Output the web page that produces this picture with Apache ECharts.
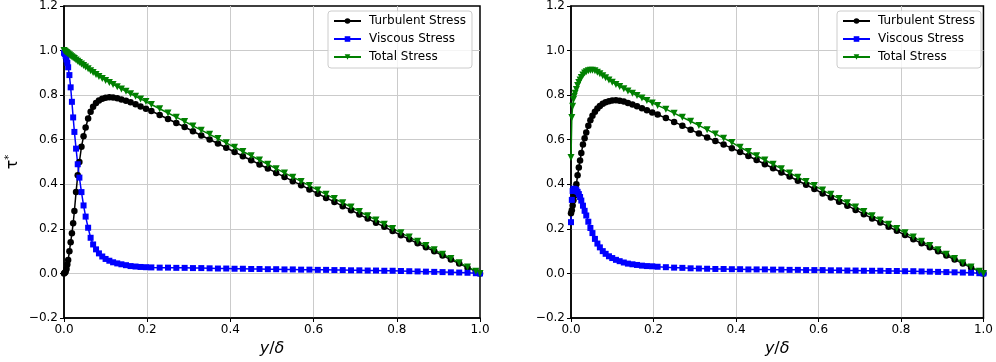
<!DOCTYPE html>
<html><head><meta charset="utf-8">
<script src="https://cdn.jsdelivr.net/npm/echarts@6/dist/echarts.min.js"></script>
<style>html,body{margin:0;padding:0;background:#fff}#c{width:996px;height:362px}</style>
</head><body><div id="c"></div>
<script>
// wall-normal grid positions y/delta
const Y_DELTA = [0, 0.002, 0.004, 0.006, 0.008, 0.010, 0.013, 0.016, 0.019, 0.022, 0.025, 0.029, 0.033, 0.037, 0.042, 0.047, 0.052, 0.058, 0.064, 0.070, 0.077, 0.084, 0.092, 0.100, 0.109, 0.118, 0.128, 0.138, 0.149, 0.160, 0.172, 0.184, 0.197,
  0.21, 0.23, 0.25, 0.27, 0.29, 0.31, 0.33, 0.35, 0.37, 0.39, 0.41, 0.43, 0.45, 0.47, 0.49, 0.51, 0.53, 0.55, 0.57, 0.59, 0.61, 0.63, 0.65, 0.67, 0.69, 0.71, 0.73, 0.75, 0.77, 0.79, 0.81, 0.83, 0.85, 0.87, 0.89, 0.91, 0.93, 0.95, 0.97, 0.99, 1.0];

// left panel
const LEFT_TURBULENT = [0, 0.003, 0.008, 0.02, 0.04, 0.06, 0.1, 0.14, 0.18, 0.225, 0.28, 0.365, 0.44, 0.50, 0.568, 0.615, 0.655, 0.695, 0.725, 0.748, 0.765, 0.776, 0.784, 0.788, 0.79, 0.789, 0.786, 0.781, 0.775, 0.768, 0.759, 0.749, 0.739,
  0.729, 0.711, 0.693, 0.675, 0.657, 0.638, 0.619, 0.601, 0.583, 0.564, 0.545, 0.526, 0.508, 0.489, 0.471, 0.451, 0.433, 0.414, 0.396, 0.377, 0.358, 0.339, 0.321, 0.302, 0.284, 0.264, 0.246, 0.227, 0.209, 0.19, 0.171, 0.153, 0.135, 0.117, 0.099, 0.08, 0.062, 0.044, 0.026, 0.009, 0];
const LEFT_VISCOUS = [0.99, 0.985, 0.975, 0.96, 0.945, 0.925, 0.89, 0.835, 0.77, 0.70, 0.635, 0.56, 0.49, 0.43, 0.365, 0.305, 0.255, 0.205, 0.16, 0.13, 0.108, 0.09, 0.076, 0.065, 0.057, 0.05, 0.045, 0.041, 0.037, 0.033, 0.031, 0.029, 0.028,
  0.027, 0.026, 0.026, 0.025, 0.025, 0.024, 0.024, 0.023, 0.022, 0.022, 0.021, 0.021, 0.02, 0.02, 0.019, 0.019, 0.018, 0.018, 0.017, 0.017, 0.016, 0.016, 0.015, 0.015, 0.014, 0.014, 0.013, 0.013, 0.012, 0.012, 0.011, 0.01, 0.009, 0.008, 0.007, 0.006, 0.005, 0.004, 0.003, 0.001, 0];
const LEFT_TOTAL = [1.0, 0.997, 0.994, 0.991, 0.988, 0.985, 0.981, 0.977, 0.972, 0.968, 0.964, 0.958, 0.952, 0.947, 0.94, 0.933, 0.926, 0.918, 0.91, 0.902, 0.893, 0.884, 0.875, 0.866, 0.857, 0.848, 0.838, 0.828, 0.817, 0.806, 0.795, 0.783, 0.771,
  0.758, 0.739, 0.72, 0.701, 0.682, 0.662, 0.643, 0.624, 0.605, 0.586, 0.566, 0.547, 0.528, 0.509, 0.49, 0.47, 0.451, 0.432, 0.413, 0.394, 0.374, 0.355, 0.336, 0.317, 0.298, 0.278, 0.259, 0.24, 0.221, 0.202, 0.182, 0.163, 0.144, 0.125, 0.106, 0.086, 0.067, 0.048, 0.029, 0.01, 0];

// right panel
const RIGHT_TURBULENT = [0.27, 0.283, 0.305, 0.328, 0.35, 0.373, 0.40, 0.44, 0.475, 0.507, 0.54, 0.578, 0.607, 0.632, 0.663, 0.687, 0.707, 0.726, 0.74, 0.751, 0.761, 0.768, 0.773, 0.776, 0.777, 0.775, 0.771, 0.765, 0.758, 0.75, 0.741, 0.732, 0.722,
  0.713, 0.697, 0.68, 0.663, 0.645, 0.628, 0.61, 0.594, 0.578, 0.562, 0.545, 0.527, 0.509, 0.49, 0.472, 0.453, 0.435, 0.416, 0.398, 0.379, 0.359, 0.341, 0.322, 0.304, 0.285, 0.266, 0.247, 0.228, 0.21, 0.191, 0.172, 0.153, 0.135, 0.117, 0.099, 0.08, 0.062, 0.044, 0.026, 0.009, 0];
const RIGHT_VISCOUS = [0.23, 0.33, 0.37, 0.38, 0.379, 0.377, 0.374, 0.366, 0.356, 0.343, 0.327, 0.304, 0.281, 0.26, 0.232, 0.204, 0.181, 0.155, 0.134, 0.117, 0.1, 0.088, 0.077, 0.069, 0.061, 0.055, 0.049, 0.044, 0.041, 0.038, 0.035, 0.033, 0.032,
  0.03, 0.028, 0.026, 0.025, 0.023, 0.022, 0.021, 0.02, 0.02, 0.019, 0.019, 0.018, 0.018, 0.018, 0.017, 0.017, 0.016, 0.016, 0.015, 0.015, 0.015, 0.014, 0.014, 0.013, 0.013, 0.012, 0.012, 0.012, 0.011, 0.011, 0.01, 0.01, 0.009, 0.008, 0.007, 0.006, 0.005, 0.004, 0.003, 0.001, 0];
const RIGHT_TOTAL = [0.52, 0.70, 0.75, 0.78, 0.795, 0.808, 0.825, 0.843, 0.857, 0.868, 0.879, 0.89, 0.899, 0.905, 0.91, 0.912, 0.912, 0.909, 0.903, 0.896, 0.887, 0.878, 0.868, 0.858, 0.848, 0.839, 0.829, 0.819, 0.809, 0.798, 0.787, 0.776, 0.765,
  0.754, 0.737, 0.719, 0.701, 0.683, 0.664, 0.645, 0.626, 0.607, 0.588, 0.566, 0.547, 0.528, 0.509, 0.49, 0.47, 0.451, 0.432, 0.413, 0.394, 0.374, 0.355, 0.336, 0.317, 0.298, 0.278, 0.259, 0.24, 0.221, 0.202, 0.182, 0.163, 0.144, 0.125, 0.106, 0.086, 0.067, 0.048, 0.029, 0.01, 0];

const SERIES_NAMES = ['Turbulent Stress', 'Viscous Stress', 'Total Stress'];
const X_TICK_LABELS = ['0.0', '0.2', '0.4', '0.6', '0.8', '1.0'];
const Y_TICK_LABELS = ['\u22120.2', '0.0', '0.2', '0.4', '0.6', '0.8', '1.0', '1.2'];

const FONT = 'DejaVu Sans';
const COLORS = ['#000000', '#0000ff', '#008000'];
const SYMBOLS = ['circle', 'rect', 'path://M0,0 L10,0 L5,9 Z'];
const SYMBOL_SIZES = [6.5, 6, 7];

function pairs(xs, ys) { return xs.map((x, i) => [x, ys[i]]); }
function xLabel(v) { return X_TICK_LABELS[Math.round(v / 0.2)] || ''; }
function yLabel(v) { return Y_TICK_LABELS[Math.round((v + 0.2) / 0.2)] || ''; }

const grids = [
  { left: 64, top: 5, width: 416, height: 313 },
  { left: 571, top: 5, width: 416, height: 313 }
].map(g => Object.assign(g, { show: true, borderColor: '#000', borderWidth: 1.5, backgroundColor: 'transparent' }));

const SPLIT = { show: true, showMinLine: false, showMaxLine: false, lineStyle: { color: '#cbcbcb', width: 1 } };

function xAxis(i) {
  return {
    gridIndex: i, type: 'value', min: 0, max: 1, interval: 0.2,
    axisLine: { show: true, onZero: false, lineStyle: { color: '#000', width: 1.5 } },
    axisTick: { show: true, inside: false, length: 4, lineStyle: { color: '#000', width: 1 } },
    axisLabel: { formatter: xLabel, color: '#000', fontSize: 12, fontFamily: FONT, margin: 6, showMinLabel: true, showMaxLabel: true },
    splitLine: SPLIT,
    name: '{i|y}{n|/}{i|δ}', nameLocation: 'middle', nameGap: 22,
    nameTextStyle: { rich: { i: { fontStyle: 'italic', fontSize: 16, fontFamily: FONT, color: '#000' }, n: { fontSize: 16, fontFamily: FONT, color: '#000' } } }
  };
}
function yAxis(i) {
  const a = {
    gridIndex: i, type: 'value', min: -0.2, max: 1.2, interval: 0.2,
    axisLine: { show: true, onZero: false, lineStyle: { color: '#000', width: 1.5 } },
    axisTick: { show: true, inside: false, length: 4, lineStyle: { color: '#000', width: 1 } },
    axisLabel: { formatter: yLabel, color: '#000', fontSize: 12, fontFamily: FONT, margin: 6, showMinLabel: true, showMaxLabel: true },
    splitLine: SPLIT
  };
  if (i === 0) {
    a.name = '{t|τ}{s|*}';
    a.nameLocation = 'middle';
    a.nameGap = 42;
    a.nameRotate = 90;
    a.nameTextStyle = { rich: { t: { fontSize: 16, fontFamily: FONT, color: '#000' }, s: { fontSize: 10, fontFamily: FONT, color: '#000', verticalAlign: 'top', padding: [0, 0, 8, 0] } } };
  }
  return a;
}

function legend(left) {
  return {
    left: left, top: 11, orient: 'vertical', selectedMode: false,
    data: SERIES_NAMES,
    itemWidth: 27, itemHeight: 7, itemGap: 4,
    padding: [3, 6, 4, 5],
    backgroundColor: 'rgba(255,255,255,0.8)', borderColor: '#cccccc', borderWidth: 1, borderRadius: 3,
    textStyle: { fontSize: 12, fontFamily: FONT, color: '#000', lineHeight: 14, padding: [0, 0, 0, 3] }
  };
}

const data = [
  [LEFT_TURBULENT, LEFT_VISCOUS, LEFT_TOTAL],
  [RIGHT_TURBULENT, RIGHT_VISCOUS, RIGHT_TOTAL]
];
const series = [];
data.forEach((panel, p) => {
  panel.forEach((vals, k) => {
    series.push({
      name: SERIES_NAMES[k], type: 'line', xAxisIndex: p, yAxisIndex: p,
      data: pairs(Y_DELTA, vals),
      symbol: SYMBOLS[k], symbolSize: SYMBOL_SIZES[k], showAllSymbol: true,
      lineStyle: { color: COLORS[k], width: 1.5 },
      itemStyle: { color: COLORS[k], borderWidth: 0 },
      emphasis: { disabled: true }, clip: true, animation: false
    });
  });
});

const chart = echarts.init(document.getElementById('c'), null, { renderer: 'canvas' });
chart.setOption({
  animation: false,
  backgroundColor: '#fff',
  grid: grids,
  xAxis: [xAxis(0), xAxis(1)],
  yAxis: [yAxis(0), yAxis(1)],
  legend: [legend(328), legend(837)],
  series: series
});
</script>
</body></html>
